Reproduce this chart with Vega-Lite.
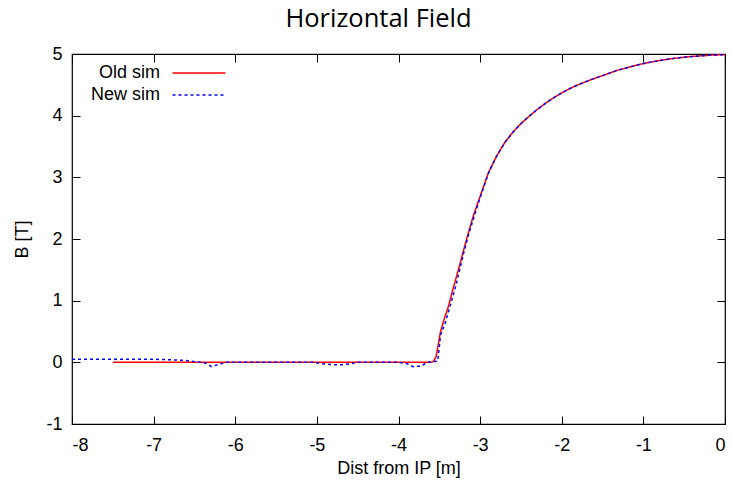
{
  "$schema": "https://vega.github.io/schema/vega-lite/v6.json",
  "width": 653,
  "height": 370,
  "autosize": {"type": "none"},
  "padding": {"left": 72, "top": 54, "right": 8, "bottom": 57},
  "background": "white",
  "title": {"text": "Horizontal Field", "font": "Open Sans", "fontSize": 25.5, "fontWeight": "normal", "color": "black", "anchor": "middle", "dx": -20, "offset": 13},
  "config": {
    "view": {"stroke": "black", "strokeWidth": 1.2},
    "axis": {"domain": false, "grid": false, "tickColor": "black", "tickSize": -8, "tickWidth": 1, "labelFont": "Liberation Sans", "labelFontSize": 18, "labelColor": "black", "titleFont": "Liberation Sans", "titleFontSize": 18, "titleFontWeight": "normal", "titleColor": "black", "labelExpr": "replace(datum.label, '\u2212', '-')"}
  },
  "data": {"values": [
    {"x": -7.5, "B": 0.0, "series": "Old sim"},
    {"x": -6.0, "B": 0.0, "series": "Old sim"},
    {"x": -5.0, "B": 0.0, "series": "Old sim"},
    {"x": -4.0, "B": 0.0, "series": "Old sim"},
    {"x": -3.6, "B": 0.0, "series": "Old sim"},
    {"x": -3.575, "B": 0.01, "series": "Old sim"},
    {"x": -3.54, "B": 0.09, "series": "Old sim"},
    {"x": -3.51, "B": 0.31, "series": "Old sim"},
    {"x": -3.49, "B": 0.47, "series": "Old sim"},
    {"x": -3.45, "B": 0.66, "series": "Old sim"},
    {"x": -3.39, "B": 0.9, "series": "Old sim"},
    {"x": -3.33, "B": 1.2, "series": "Old sim"},
    {"x": -3.25, "B": 1.58, "series": "Old sim"},
    {"x": -3.2, "B": 1.83, "series": "Old sim"},
    {"x": -3.14, "B": 2.12, "series": "Old sim"},
    {"x": -3.08, "B": 2.39, "series": "Old sim"},
    {"x": -3.0, "B": 2.69, "series": "Old sim"},
    {"x": -2.9, "B": 3.07, "series": "Old sim"},
    {"x": -2.8, "B": 3.34, "series": "Old sim"},
    {"x": -2.7, "B": 3.56, "series": "Old sim"},
    {"x": -2.6, "B": 3.73, "series": "Old sim"},
    {"x": -2.5, "B": 3.87, "series": "Old sim"},
    {"x": -2.4, "B": 3.99, "series": "Old sim"},
    {"x": -2.3, "B": 4.1, "series": "Old sim"},
    {"x": -2.2, "B": 4.2, "series": "Old sim"},
    {"x": -2.1, "B": 4.29, "series": "Old sim"},
    {"x": -2.0, "B": 4.37, "series": "Old sim"},
    {"x": -1.9, "B": 4.44, "series": "Old sim"},
    {"x": -1.8, "B": 4.5, "series": "Old sim"},
    {"x": -1.65, "B": 4.58, "series": "Old sim"},
    {"x": -1.5, "B": 4.65, "series": "Old sim"},
    {"x": -1.32, "B": 4.735, "series": "Old sim"},
    {"x": -1.15, "B": 4.795, "series": "Old sim"},
    {"x": -1.0, "B": 4.845, "series": "Old sim"},
    {"x": -0.8, "B": 4.895, "series": "Old sim"},
    {"x": -0.62, "B": 4.93, "series": "Old sim"},
    {"x": -0.45, "B": 4.955, "series": "Old sim"},
    {"x": -0.3, "B": 4.97, "series": "Old sim"},
    {"x": -0.15, "B": 4.983, "series": "Old sim"},
    {"x": 0.0, "B": 4.99, "series": "Old sim"},
    {"x": -8.0, "B": 0.05, "series": "New sim"},
    {"x": -7.5, "B": 0.05, "series": "New sim"},
    {"x": -7.0, "B": 0.05, "series": "New sim"},
    {"x": -6.77, "B": 0.04, "series": "New sim"},
    {"x": -6.6, "B": 0.03, "series": "New sim"},
    {"x": -6.5, "B": 0.01, "series": "New sim"},
    {"x": -6.4, "B": 0.0, "series": "New sim"},
    {"x": -6.35, "B": -0.02, "series": "New sim"},
    {"x": -6.29, "B": -0.07, "series": "New sim"},
    {"x": -6.2, "B": -0.03, "series": "New sim"},
    {"x": -6.1, "B": 0.0, "series": "New sim"},
    {"x": -5.5, "B": 0.0, "series": "New sim"},
    {"x": -5.05, "B": 0.0, "series": "New sim"},
    {"x": -4.95, "B": -0.02, "series": "New sim"},
    {"x": -4.8, "B": -0.04, "series": "New sim"},
    {"x": -4.68, "B": -0.04, "series": "New sim"},
    {"x": -4.58, "B": -0.02, "series": "New sim"},
    {"x": -4.5, "B": 0.0, "series": "New sim"},
    {"x": -4.0, "B": 0.0, "series": "New sim"},
    {"x": -3.9, "B": -0.02, "series": "New sim"},
    {"x": -3.82, "B": -0.07, "series": "New sim"},
    {"x": -3.72, "B": -0.06, "series": "New sim"},
    {"x": -3.65, "B": 0.0, "series": "New sim"},
    {"x": -3.58, "B": 0.01, "series": "New sim"},
    {"x": -3.52, "B": 0.02, "series": "New sim"},
    {"x": -3.5, "B": 0.25, "series": "New sim"},
    {"x": -3.485, "B": 0.44, "series": "New sim"},
    {"x": -3.43, "B": 0.63, "series": "New sim"},
    {"x": -3.37, "B": 0.9, "series": "New sim"},
    {"x": -3.29, "B": 1.28, "series": "New sim"},
    {"x": -3.2, "B": 1.78, "series": "New sim"},
    {"x": -3.14, "B": 2.08, "series": "New sim"},
    {"x": -3.07, "B": 2.38, "series": "New sim"},
    {"x": -3.0, "B": 2.67, "series": "New sim"},
    {"x": -2.9, "B": 3.06, "series": "New sim"},
    {"x": -2.8, "B": 3.34, "series": "New sim"},
    {"x": -2.7, "B": 3.56, "series": "New sim"},
    {"x": -2.6, "B": 3.73, "series": "New sim"},
    {"x": -2.5, "B": 3.87, "series": "New sim"},
    {"x": -2.4, "B": 3.99, "series": "New sim"},
    {"x": -2.3, "B": 4.1, "series": "New sim"},
    {"x": -2.2, "B": 4.2, "series": "New sim"},
    {"x": -2.1, "B": 4.29, "series": "New sim"},
    {"x": -2.0, "B": 4.37, "series": "New sim"},
    {"x": -1.9, "B": 4.44, "series": "New sim"},
    {"x": -1.8, "B": 4.5, "series": "New sim"},
    {"x": -1.65, "B": 4.58, "series": "New sim"},
    {"x": -1.5, "B": 4.65, "series": "New sim"},
    {"x": -1.32, "B": 4.735, "series": "New sim"},
    {"x": -1.15, "B": 4.795, "series": "New sim"},
    {"x": -1.0, "B": 4.845, "series": "New sim"},
    {"x": -0.8, "B": 4.895, "series": "New sim"},
    {"x": -0.62, "B": 4.93, "series": "New sim"},
    {"x": -0.45, "B": 4.955, "series": "New sim"},
    {"x": -0.3, "B": 4.97, "series": "New sim"},
    {"x": -0.15, "B": 4.983, "series": "New sim"},
    {"x": 0.0, "B": 4.99, "series": "New sim"}
  ]},
  "layer": [
    {
      "transform": [{"filter": "datum.series === 'Old sim'"}],
      "mark": {"type": "line", "strokeWidth": 1.5, "clip": true},
      "encoding": {
        "x": {"field": "x", "type": "quantitative", "scale": {"domain": [-8, 0], "nice": false, "zero": false}, "axis": {"orient": "bottom", "title": "Dist from IP [m]", "values": [-8, -7, -6, -5, -4, -3, -2, -1, 0], "labelPadding": 20, "titlePadding": 5}},
        "y": {"field": "B", "type": "quantitative", "scale": {"domain": [-1, 5], "nice": false, "zero": false}, "axis": {"orient": "left", "title": "B [T]", "values": [-1, 0, 1, 2, 3, 4, 5], "labelPadding": 18, "titlePadding": 14}},
        "color": {"field": "series", "type": "nominal", "scale": {"domain": ["Old sim", "New sim"], "range": ["#ff0000", "#0000ff"]},
          "legend": {"orient": "none", "legendX": 0, "legendY": 10, "title": null, "padding": 0, "symbolType": "M-5.3,0H5.3", "symbolSize": 100, "symbolStrokeWidth": 1.5, "labelFont": "Liberation Sans", "labelFontSize": 18, "labelColor": "black", "labelAlign": "right", "rowPadding": 4,
            "encode": {"labels": {"update": {"x": {"value": 88}}}, "symbols": {"update": {"x": {"value": 127}}}}}},
        "strokeDash": {"field": "series", "type": "nominal", "scale": {"domain": ["Old sim", "New sim"], "range": [[1, 0], [3, 3]]}, "legend": null},
        "order": {"field": "x", "type": "quantitative"}
      }
    },
    {
      "transform": [{"filter": "datum.series === 'New sim'"}],
      "mark": {"type": "line", "strokeWidth": 1.5, "clip": true},
      "encoding": {
        "x": {"field": "x", "type": "quantitative", "axis": {"orient": "top", "title": null, "labels": false, "values": [-8, -7, -6, -5, -4, -3, -2, -1, 0]}},
        "y": {"field": "B", "type": "quantitative", "axis": {"orient": "right", "title": null, "labels": false, "values": [-1, 0, 1, 2, 3, 4, 5]}},
        "color": {"field": "series", "type": "nominal"},
        "strokeDash": {"field": "series", "type": "nominal"},
        "order": {"field": "x", "type": "quantitative"}
      }
    }
  ]
}
